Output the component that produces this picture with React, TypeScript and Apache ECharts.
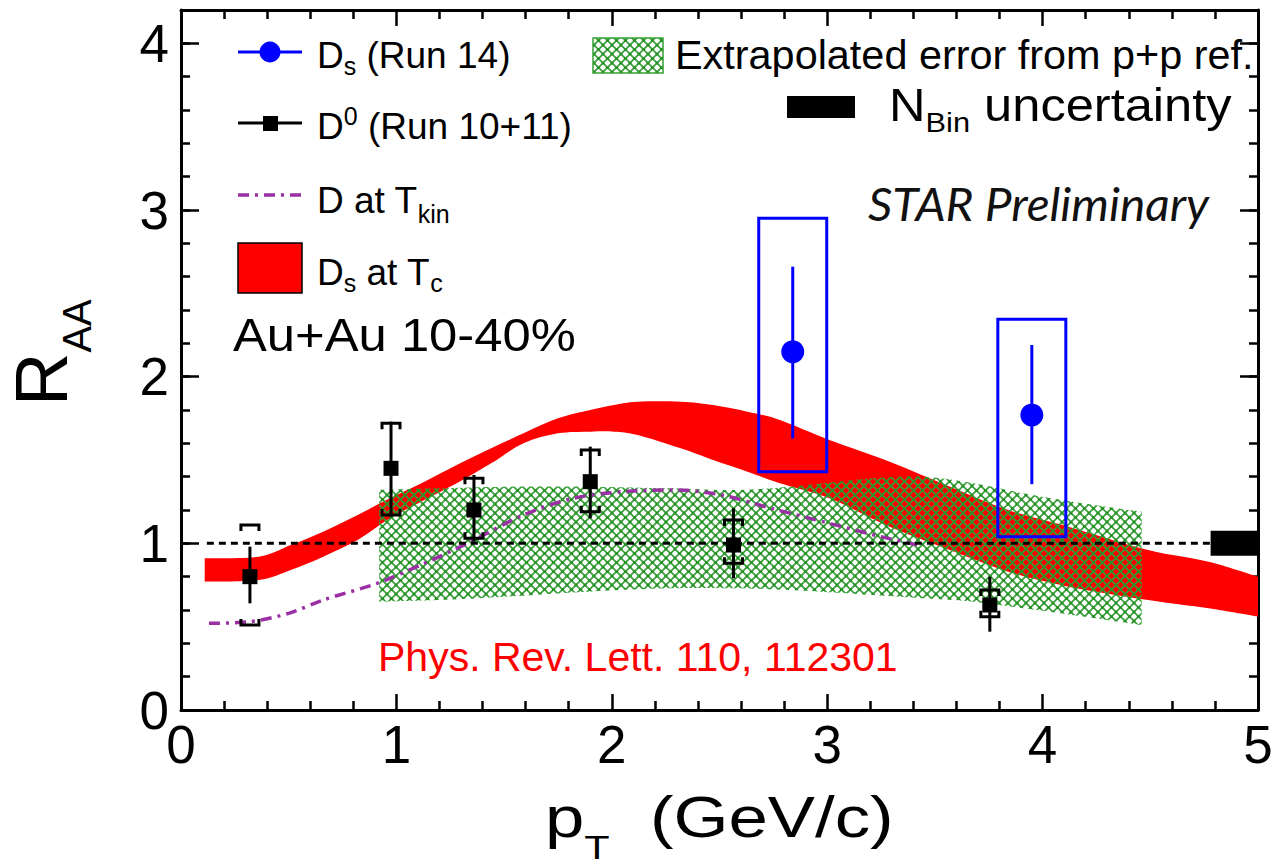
import React, { useEffect, useRef } from 'react';
import * as echarts from 'echarts';

// ---------- data ----------
// D_s (Run 14)
const dsX = [2.84, 3.95];
const dsY = [2.15, 1.77];
const dsStatLo = [1.63, 1.355];
const dsStatHi = [2.66, 2.19];
const dsSysLo = [1.43, 1.04];
const dsSysHi = [2.95, 2.345];

// D0 (Run 10+11)
const d0X = [0.32, 0.975, 1.36, 1.9, 2.565, 3.755];
const d0Y = [0.8, 1.45, 1.2, 1.37, 0.99, 0.63];
const d0StatLo = [0.64, 1.16, 1.01, 1.15, 0.79, 0.47];
const d0StatHi = [0.98, 1.73, 1.41, 1.58, 1.21, 0.8];
const d0SysLo = [0.51, 1.17, 1.03, 1.19, 0.88, 0.56];
const d0SysHi = [1.11, 1.72, 1.39, 1.56, 1.14, 0.72];

// D_s at T_c (band)
const tcX = [0.11, 0.36, 0.51, 0.66, 0.82, 0.97, 1.13, 1.28, 1.44, 1.59, 1.75, 1.9, 2.01, 2.12, 2.32, 2.47, 2.63, 2.78, 3.01, 3.29, 3.57, 3.84, 4.12, 4.49, 4.77, 5.0];
const tcHi = [0.91, 0.92, 0.99, 1.07, 1.17, 1.27, 1.37, 1.47, 1.57, 1.66, 1.75, 1.8, 1.83, 1.85, 1.85, 1.83, 1.79, 1.74, 1.62, 1.49, 1.34, 1.2, 1.1, 0.96, 0.89, 0.8];
const tcLo = [0.77, 0.78, 0.84, 0.92, 1.02, 1.15, 1.26, 1.36, 1.48, 1.6, 1.66, 1.67, 1.67, 1.65, 1.57, 1.5, 1.43, 1.36, 1.27, 1.1, 0.96, 0.83, 0.74, 0.66, 0.61, 0.56];

// D at T_kin (dashed curve)
const kinX = [0.13, 0.32, 0.5, 0.66, 0.91, 1.13, 1.33, 1.59, 1.82, 2.05, 2.3, 2.51, 2.74, 3.01, 3.25, 3.42];
const kinY = [0.52, 0.53, 0.58, 0.66, 0.76, 0.88, 1.0, 1.17, 1.27, 1.31, 1.32, 1.29, 1.21, 1.12, 1.04, 0.99];

// Extrapolated error from p+p ref. (hatched band)
const ppX = [0.92, 1.19, 1.5, 1.89, 2.27, 2.55, 2.83, 3.21, 3.45, 3.68, 3.91, 4.14, 4.46];
const ppHi = [1.32, 1.33, 1.34, 1.34, 1.33, 1.32, 1.34, 1.39, 1.4, 1.36, 1.3, 1.25, 1.19];
const ppLo = [0.65, 0.66, 0.68, 0.71, 0.73, 0.73, 0.72, 0.69, 0.67, 0.65, 0.61, 0.57, 0.51];

// N_bin uncertainty box [x0, x1], [y0, y1]
const nbinX = [4.78, 5.0];
const nbinY = [0.925, 1.075];

// unity reference line
const unityX = [0.12, 5.0];
const unityY = [1, 1];

const FONT = 'Liberation Sans';

// smooth path through screen points (Catmull-Rom as cubic Bezier)
function smoothSeg(pts: number[][], start: boolean): string {
  let d = start ? `M${pts[0][0]},${pts[0][1]}` : `L${pts[0][0]},${pts[0][1]}`;
  const n = pts.length;
  for (let i = 0; i < n - 1; i++) {
    const p0 = pts[Math.max(0, i - 1)];
    const p1 = pts[i];
    const p2 = pts[i + 1];
    const p3 = pts[Math.min(n - 1, i + 2)];
    const c1x = p1[0] + (p2[0] - p0[0]) / 6;
    const c1y = p1[1] + (p2[1] - p0[1]) / 6;
    const c2x = p2[0] - (p3[0] - p1[0]) / 6;
    const c2y = p2[1] - (p3[1] - p1[1]) / 6;
    d += `C${c1x},${c1y},${c2x},${c2y},${p2[0]},${p2[1]}`;
  }
  return d;
}

export default function App() {
  const ref = useRef<HTMLDivElement>(null);

  useEffect(() => {
    const el = ref.current!;
    const chart = echarts.init(el, undefined, { renderer: 'svg' });

    const mc = document.createElement('canvas');
    const mctx = mc.getContext('2d')!;
    const tw = (t: string, size: number, fam = FONT, st = '') => {
      mctx.font = `${st} ${size}px "${fam}"`;
      return mctx.measureText(t).width;
    };

    const P = 9;
    const hatch = document.createElement('canvas');
    hatch.width = P;
    hatch.height = P;
    const hg = hatch.getContext('2d')!;
    hg.strokeStyle = '#35a035';
    hg.lineWidth = 1.6;
    hg.beginPath();
    hg.moveTo(0, 0);
    hg.lineTo(P, P);
    hg.moveTo(P, 0);
    hg.lineTo(0, P);
    hg.stroke();
    hg.fillStyle = '#2a902a';
    [[P / 2, P / 2], [0, 0], [P, 0], [0, P], [P, P]].forEach(([a, b]) => {
      hg.beginPath();
      hg.arc(a, b, 1.6, 0, Math.PI * 2);
      hg.fill();
    });
    const hatchFill: any = { image: hatch, repeat: 'repeat' };

    type Piece = { t: string; s: number; dy?: number; x?: number };
    const row = (x: number, y: number, pieces: Piece[], o: { scaleX?: number; fill?: string; rotation?: number; fam?: string; st?: string } = {}) => {
      let cx = 0;
      const fam = o.fam || FONT;
      const st = o.st || '';
      const children = pieces.map((p) => {
        if (p.x !== undefined) cx = p.x;
        const trimmed = p.t.replace(/^\s+/, '');
        const lead = p.t.slice(0, p.t.length - trimmed.length);
        const off = lead ? tw(lead, p.s, fam, st) : 0;
        const e = {
          type: 'text',
          x: cx + off,
          y: p.dy || 0,
          style: {
            text: trimmed,
            font: `${st} ${p.s}px "${fam}"`,
            fill: o.fill || '#000',
            align: 'left',
            verticalAlign: 'middle',
            textAlign: 'left',
            textVerticalAlign: 'middle',
          },
        };
        cx += tw(p.t, p.s, fam, st);
        return e;
      });
      return { type: 'group', x, y, scaleX: o.scaleX ?? 1, rotation: o.rotation ?? 0, children };
    };

    const axisLineStyle = { color: '#000', width: 3 };
    const tickStyle = { color: '#000', width: 2.5 };

    const xAxisBase = (pos: string, labels: boolean) => ({
      type: 'value',
      min: 0,
      max: 5,
      interval: 1,
      position: pos,
      axisLine: { show: true, onZero: false, lineStyle: axisLineStyle },
      axisTick: { show: true, inside: true, length: 16, lineStyle: tickStyle },
      minorTick: { show: true, splitNumber: 5, length: 9, lineStyle: tickStyle },
      splitLine: { show: false },
      minorSplitLine: { show: false },
      axisLabel: { show: labels, fontSize: 53, color: '#000', margin: 8, fontFamily: FONT },
    });

    const yAxisBase = (pos: string, interval: number, len: number, labels: boolean, line: boolean) => ({
      type: 'value',
      min: 0,
      max: 4.2,
      interval,
      position: pos,
      axisLine: { show: line, onZero: false, lineStyle: axisLineStyle },
      axisTick: { show: true, inside: true, length: len, lineStyle: tickStyle },
      splitLine: { show: false },
      axisLabel: {
        show: labels,
        fontSize: 53,
        color: '#000',
        margin: 12,
        fontFamily: FONT,
        showMaxLabel: false,
        formatter: (v: number) => {
          const r = Math.round(v);
          return Math.abs(v - r) < 1e-6 ? String(r) : '';
        },
      },
    });

    const bandSeries = (name: string, xs: number[], lo: number[], hi: number[], fill: any, z: number) => ({
      type: 'custom',
      name,
      z,
      silent: true,
      data: [[xs[0], lo[0]]],
      renderItem: (_p: any, api: any) => {
        const up = xs.map((x, i) => api.coord([x, hi[i]]));
        const dn = xs.map((x, i) => api.coord([x, lo[i]])).reverse();
        const d = smoothSeg(up, true) + smoothSeg(dn, false) + 'Z';
        return { type: 'path', shape: { pathData: d }, style: { fill } };
      },
    });

    const option: any = {
      animation: false,
      backgroundColor: '#fff',
      textStyle: { fontFamily: FONT },
      grid: { left: 181, right: 16, top: 10, bottom: 158, containLabel: false, outerBoundsMode: 'none' },
      xAxis: [xAxisBase('bottom', true), xAxisBase('top', false)],
      yAxis: [
        yAxisBase('left', 0.2, 9, true, true),
        yAxisBase('left', 1, 18, false, false),
        yAxisBase('right', 0.2, 9, false, true),
        yAxisBase('right', 1, 18, false, false),
      ],
      series: [
        bandSeries('Ds at Tc', tcX, tcLo, tcHi, '#ff0000', 1),
        bandSeries('Extrapolated error from p+p ref.', ppX, ppLo, ppHi, hatchFill, 2),
        {
          type: 'line',
          name: 'D at Tkin',
          z: 3,
          smooth: 0.3,
          symbol: 'none',
          data: kinX.map((x, i) => [x, kinY[i]]),
          lineStyle: { color: '#9b2fa6', width: 3.5, type: [11, 6, 3, 6] },
        },
        {
          type: 'line',
          name: 'unity',
          z: 4,
          symbol: 'none',
          data: unityX.map((x, i) => [x, unityY[i]]),
          lineStyle: { color: '#000', width: 3, type: [7, 5] },
        },
        {
          type: 'custom',
          name: 'Nbin',
          z: 5,
          silent: true,
          data: [[nbinX[0], nbinY[0], nbinX[1], nbinY[1]]],
          renderItem: (_p: any, api: any) => {
            const a = api.coord([api.value(0), api.value(3)]);
            const b = api.coord([api.value(2), api.value(1)]);
            return { type: 'rect', shape: { x: a[0], y: a[1], width: b[0] - a[0], height: b[1] - a[1] }, style: { fill: '#000' } };
          },
        },
        {
          type: 'custom',
          name: 'Ds errors',
          z: 6,
          silent: true,
          data: dsX.map((x, i) => [x, dsY[i], dsStatLo[i], dsStatHi[i], dsSysLo[i], dsSysHi[i]]),
          encode: { x: 0, y: 1 },
          renderItem: (_p: any, api: any) => {
            const x = api.value(0);
            const cx = api.coord([x, api.value(1)])[0];
            const sLo = api.coord([x, api.value(2)])[1];
            const sHi = api.coord([x, api.value(3)])[1];
            const bLo = api.coord([x, api.value(4)])[1];
            const bHi = api.coord([x, api.value(5)])[1];
            return {
              type: 'group',
              children: [
                { type: 'rect', shape: { x: cx - 34, y: bHi, width: 68, height: bLo - bHi }, style: { fill: 'none', stroke: '#0000ff', lineWidth: 3 } },
                { type: 'line', shape: { x1: cx, y1: sHi, x2: cx, y2: sLo }, style: { stroke: '#0000ff', lineWidth: 3 } },
              ],
            };
          },
        },
        {
          type: 'custom',
          name: 'D0 errors',
          z: 7,
          silent: true,
          data: d0X.map((x, i) => [x, d0Y[i], d0StatLo[i], d0StatHi[i], d0SysLo[i], d0SysHi[i]]),
          encode: { x: 0, y: 1 },
          renderItem: (_p: any, api: any) => {
            const x = api.value(0);
            const cx = api.coord([x, api.value(1)])[0];
            const sLo = api.coord([x, api.value(2)])[1];
            const sHi = api.coord([x, api.value(3)])[1];
            const bLo = api.coord([x, api.value(4)])[1];
            const bHi = api.coord([x, api.value(5)])[1];
            const w = 9;
            const h = 6;
            const st = { stroke: '#000', lineWidth: 3, fill: 'none' };
            return {
              type: 'group',
              children: [
                { type: 'line', shape: { x1: cx, y1: sHi, x2: cx, y2: sLo }, style: st },
                { type: 'polyline', shape: { points: [[cx - w, bHi + h], [cx - w, bHi], [cx + w, bHi], [cx + w, bHi + h]] }, style: st },
                { type: 'polyline', shape: { points: [[cx - w, bLo - h], [cx - w, bLo], [cx + w, bLo], [cx + w, bLo - h]] }, style: st },
              ],
            };
          },
        },
        {
          type: 'scatter',
          name: 'D0 (Run 10+11)',
          z: 8,
          symbol: 'rect',
          symbolSize: 15,
          itemStyle: { color: '#000', opacity: 1 },
          data: d0X.map((x, i) => [x, d0Y[i]]),
        },
        {
          type: 'scatter',
          name: 'Ds (Run 14)',
          z: 8,
          symbol: 'circle',
          symbolSize: 23,
          itemStyle: { color: '#0000ff', opacity: 1 },
          data: dsX.map((x, i) => [x, dsY[i]]),
        },
      ],
      graphic: [
        // legend markers
        { type: 'line', shape: { x1: 238, y1: 52, x2: 302, y2: 52 }, style: { stroke: '#0000ff', lineWidth: 3 } },
        { type: 'circle', shape: { cx: 270, cy: 52, r: 10.5 }, style: { fill: '#0000ff' } },
        { type: 'line', shape: { x1: 238, y1: 123, x2: 302, y2: 123 }, style: { stroke: '#000', lineWidth: 3 } },
        { type: 'rect', shape: { x: 263, y: 116, width: 15, height: 15 }, style: { fill: '#000' } },
        { type: 'line', shape: { x1: 238, y1: 195, x2: 302, y2: 195 }, style: { stroke: '#9b2fa6', lineWidth: 3.5, lineDash: [11, 6, 3, 6] } },
        { type: 'rect', shape: { x: 238, y: 243, width: 64, height: 50 }, style: { fill: '#ff0000', stroke: '#000', lineWidth: 1.5 } },
        { type: 'rect', shape: { x: 593, y: 38, width: 70, height: 35 }, style: { fill: hatchFill, stroke: '#35a035', lineWidth: 1.5 } },
        { type: 'rect', shape: { x: 787, y: 96, width: 68, height: 22 }, style: { fill: '#000' } },
        // legend texts
        row(317, 55, [{ t: 'D', s: 37 }, { t: 's', s: 25, dy: 11 }, { t: ' (Run 14)', s: 37 }]),
        row(317, 126, [{ t: 'D', s: 37 }, { t: '0', s: 25, dy: -10 }, { t: ' (Run 10+11)', s: 37 }]),
        row(317, 200, [{ t: 'D at T', s: 37 }, { t: 'kin', s: 25, dy: 14 }]),
        row(317, 272, [{ t: 'D', s: 37 }, { t: 's', s: 25, dy: 11 }, { t: ' at T', s: 37 }, { t: 'c', s: 25, dy: 11 }]),
        row(233, 335, [{ t: 'Au+Au 10-40%', s: 47 }], { scaleX: 1.08 }),
        row(675, 55, [{ t: 'Extrapolated error from p+p ref.', s: 41 }], { scaleX: 1.01 }),
        row(889, 105, [{ t: 'N', s: 46 }, { t: 'Bin', s: 28, dy: 17 }, { t: ' uncertainty', s: 46 }], { scaleX: 1.1 }),
        row(868, 203, [{ t: 'STAR Preliminary', s: 46 }], { fam: 'Lato', st: 'italic', fill: '#111', scaleX: 1.04 }),
        row(378, 657, [{ t: 'Phys. Rev. Lett. 110, 112301', s: 41 }], { fill: '#ff0000' }),
        // axis titles
        row(545, 817, [{ t: 'p', s: 58 }, { t: 'T', s: 34, dy: 30 }, { t: '(GeV/c)', s: 58, x: 86 }], { scaleX: 1.22 }),
        row(41, 406, [{ t: 'R', s: 74 }, { t: 'AA', s: 40, dy: 36 }], { rotation: Math.PI / 2 }),
      ],
    };

    chart.setOption(option);
    return () => {
      chart.dispose();
    };
  }, []);

  return <div ref={ref} style={{ position: 'fixed', left: 0, top: 0, width: 1274, height: 868, background: '#fff' }} />;
}
